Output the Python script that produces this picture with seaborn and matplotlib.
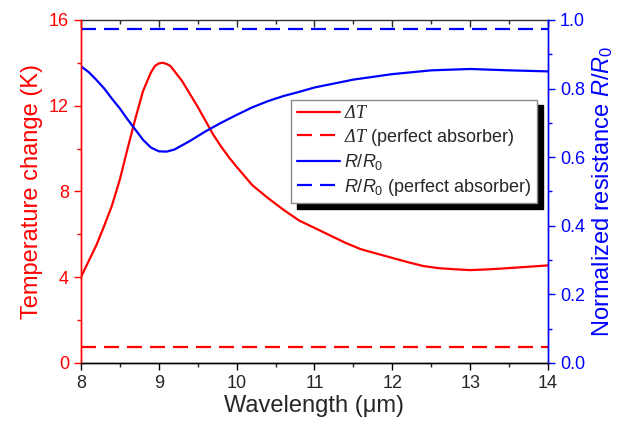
import matplotlib
matplotlib.use('Agg')
import matplotlib.pyplot as plt
import seaborn as sns
from matplotlib.ticker import MultipleLocator, FormatStrFormatter

# Data
wavelength_dt = [8.0, 8.1, 8.2, 8.3, 8.4, 8.5, 8.6, 8.7, 8.8, 8.9, 8.95, 9.0, 9.05,
                 9.1, 9.15, 9.2, 9.3, 9.4, 9.5, 9.6, 9.7, 9.8, 9.9, 10.0, 10.2,
                 10.4, 10.6, 10.8, 11.0, 11.2, 11.4, 11.6, 11.8, 12.0, 12.2, 12.4,
                 12.6, 12.8, 13.0, 13.2, 13.4, 13.6, 13.8, 14.0]
delta_t = [4.0, 4.75, 5.5, 6.4, 7.35, 8.55, 10.0, 11.4, 12.7, 13.55, 13.85, 13.97, 14.0,
           13.95, 13.85, 13.62, 13.15, 12.55, 11.95, 11.3, 10.65, 10.1, 9.6, 9.15, 8.3,
           7.7, 7.15, 6.65, 6.3, 5.95, 5.6, 5.3, 5.1, 4.9, 4.7, 4.52,
           4.42, 4.37, 4.33, 4.36, 4.4, 4.45, 4.5, 4.55]

wavelength_r = [8.0, 8.1, 8.2, 8.3, 8.4, 8.5, 8.6, 8.7, 8.8, 8.9, 9.0, 9.1, 9.2, 9.4,
                9.6, 9.8, 10.0, 10.2, 10.4, 10.6, 10.8, 11.0, 11.5, 12.0, 12.5, 13.0,
                13.5, 14.0]
r_ratio = [0.865, 0.848, 0.825, 0.80, 0.77, 0.742, 0.71, 0.68, 0.65, 0.628, 0.617,
           0.616, 0.622, 0.647, 0.675, 0.70, 0.723, 0.745, 0.763, 0.778, 0.79, 0.803,
           0.826, 0.842, 0.853, 0.857, 0.853, 0.85]

wl_range = [8.0, 14.0]
delta_t_perfect = [0.75, 0.75]
r_ratio_perfect = [0.973, 0.973]

sns.set_style('ticks')
plt.rcParams['font.family'] = ['Liberation Sans', 'DejaVu Sans']
plt.rcParams['mathtext.fontset'] = 'custom'
plt.rcParams['mathtext.rm'] = 'Liberation Sans'
plt.rcParams['mathtext.it'] = 'Liberation Sans:italic'
plt.rcParams['mathtext.cal'] = 'Liberation Serif:italic'

red = '#ff0000'
blue = '#0000ff'
lw = 1.6
dash = (0, (6.75, 3.6))
dt_label = r'$\mathcal{\Delta T}$'
r_label = r'$\mathit{R/R}_0$'

fig, ax = plt.subplots(figsize=(6.27, 4.24), dpi=100)
fig.subplots_adjust(left=0.129, right=0.874, bottom=0.144, top=0.953)
ax2 = ax.twinx()

sns.lineplot(x=wavelength_dt, y=delta_t, ax=ax, color=red, lw=lw, label=dt_label, legend=False)
sns.lineplot(x=wl_range, y=delta_t_perfect, ax=ax, color=red, lw=lw, linestyle=dash,
             label=dt_label + ' (perfect absorber)', legend=False)
sns.lineplot(x=wavelength_r, y=r_ratio, ax=ax2, color=blue, lw=lw, label=r_label, legend=False)
sns.lineplot(x=wl_range, y=r_ratio_perfect, ax=ax2, color=blue, lw=lw, linestyle=dash,
             label=r_label + ' (perfect absorber)', legend=False)

ax.set_xlim(8, 14)
ax.set_ylim(0, 16)
ax2.set_ylim(0, 1)
ax.xaxis.set_major_locator(MultipleLocator(1))
ax.xaxis.set_minor_locator(MultipleLocator(0.5))
ax.yaxis.set_major_locator(MultipleLocator(4))
ax.yaxis.set_minor_locator(MultipleLocator(2))
ax2.yaxis.set_major_locator(MultipleLocator(0.2))
ax2.yaxis.set_minor_locator(MultipleLocator(0.1))
ax2.yaxis.set_major_formatter(FormatStrFormatter('%.1f'))

ax.set_xlabel('Wavelength (\u03bcm)', fontsize=17, labelpad=2)
ax.set_ylabel('Temperature change (K)', fontsize=17, color=red, labelpad=4)
ax2.set_ylabel('Normalized resistance ' + r_label, fontsize=17, color=blue, labelpad=4)

ax.tick_params(axis='x', which='major', length=5, width=1, labelsize=13, color='black')
ax.tick_params(axis='x', which='minor', length=3, width=1)
ax.tick_params(axis='y', which='major', length=5, width=1, labelsize=13, colors=red)
ax.tick_params(axis='y', which='minor', length=3, width=1, colors=red)
ax2.tick_params(axis='y', which='major', length=5, width=1, labelsize=13, colors=blue)
ax2.tick_params(axis='y', which='minor', length=3, width=1, colors=blue)

# top axis with inward ticks, no labels
top = ax.secondary_xaxis('top')
top.xaxis.set_major_locator(MultipleLocator(1))
top.xaxis.set_minor_locator(MultipleLocator(0.5))
top.tick_params(axis='x', which='major', direction='in', length=5, width=1, labeltop=False)
top.tick_params(axis='x', which='minor', direction='in', length=3, width=1)
for side in ('left', 'right', 'bottom'):
    top.spines[side].set_visible(False)
top.spines['top'].set_color('#333333')
top.spines['top'].set_linewidth(1)

for a in (ax, ax2):
    for s in a.spines.values():
        s.set_linewidth(1)
    a.spines['top'].set_visible(False)
ax.spines['left'].set_color(red)
ax2.spines['left'].set_color(red)
ax2.spines['right'].set_color(blue)
ax.spines['right'].set_color(blue)
ax.spines['bottom'].set_color('black')
ax2.spines['bottom'].set_color('black')

handles = ax.get_lines()[:2] + ax2.get_lines()[:2]
labels = [h.get_label() for h in handles]
leg = ax2.legend(handles, labels, loc='upper left', bbox_to_anchor=(0.45, 0.767),
                 borderaxespad=0, fontsize=13, frameon=True, fancybox=False,
                 handlelength=2.4, handletextpad=0.25, labelspacing=0.25,
                 borderpad=0.3,
                 shadow={'color': 'black', 'alpha': 1, 'ox': 4, 'oy': -4})
leg.get_frame().set_edgecolor('#888888')
leg.get_frame().set_linewidth(1)
leg.get_frame().set_alpha(1)

plt.savefig('out.png', dpi=100)
